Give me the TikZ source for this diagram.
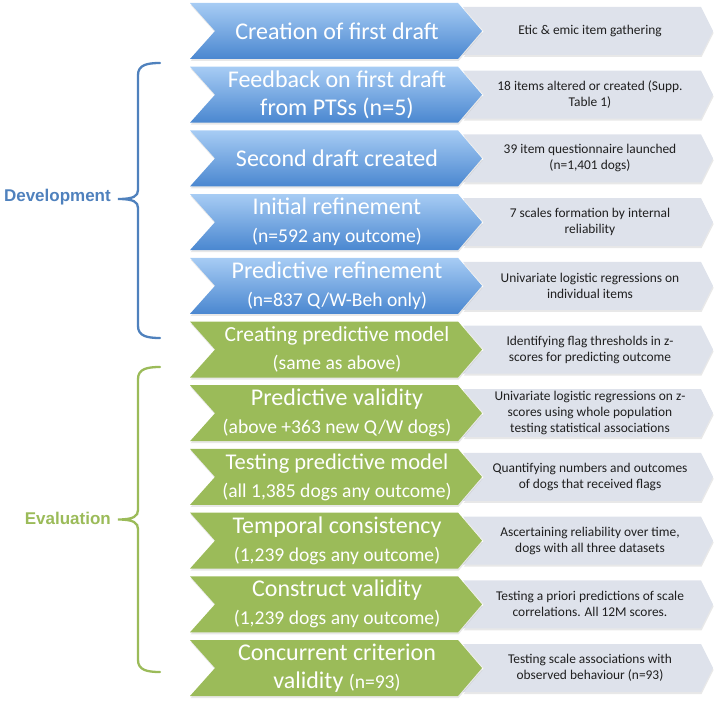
\documentclass[tikz,border=0pt]{standalone}
\usepackage{fontspec}
\setmainfont{Carlito}
\newfontfamily\labelfont{Liberation Sans}
\usetikzlibrary{shadows}
\definecolor{bluetop}{HTML}{A7CCF4}
\definecolor{bluebot}{HTML}{4A87D0}
\definecolor{greenfill}{HTML}{9BBB59}
\definecolor{grayfill}{HTML}{DEE2EB}
\definecolor{devblue}{HTML}{4F81BD}
\definecolor{evalgreen}{HTML}{9BBB59}
\tikzset{
  shad/.style={drop shadow={opacity=0.18,shadow xshift=0.6pt,shadow yshift=-2pt}},
  bluechev/.style={shad,top color=bluetop,bottom color=bluebot,draw=none},
  greenchev/.style={shad,fill=greenfill,draw=none},
  graychev/.style={shad,fill=grayfill,draw=none},
  titletext/.style={text=white,align=center,inner sep=0pt},
  desctext/.style={text=black!88,align=center,inner sep=0pt,font=\fontsize{13.4}{16}\selectfont},
  bracepath/.style={line width=2.3pt,line cap=round},
  grouplabel/.style={anchor=east,inner sep=0pt,font=\labelfont\bfseries\fontsize{17}{20}\selectfont},
}
\newcommand{\sub}[1]{{\fontsize{19.6}{28}\selectfont #1}}
% #1 row, #2 style, #3 title size, #4 title, #5 description
\newcommand{\chevrow}[5]{%
  \pgfmathsetmacro\rowt{3+63.7*(#1-1)}%
  \pgfmathsetmacro\rowm{\rowt+28}%
  \pgfmathsetmacro\rowb{\rowt+56}%
  \path[graychev] (463,\rowt+4) -- (701,\rowt+4) -- (713,\rowm) -- (701,\rowb-4)
     -- (463,\rowb-4) -- (484,\rowm) -- cycle;
  \path[#2] (190,\rowt) -- (458,\rowt) -- (482,\rowm) -- (458,\rowb)
     -- (190,\rowb) -- (215,\rowm) -- cycle;
  \node[titletext,font=\fontsize{#3}{28}\selectfont] (t#1) at (337,\rowm) {#4};
  \node[desctext] (d#1) at (590,\rowm) {#5};
}
\begin{document}
\begin{tikzpicture}[x=1pt,y=-1pt]
\useasboundingbox (0,0) rectangle (716,709);
\chevrow{1}{bluechev}{24}{Creation of first draft}{Etic \& emic item gathering}
\chevrow{2}{bluechev}{24}{Feedback on first draft\\from PTSs (n=5)}{18 items altered or created (Supp.\\Table 1)}
\chevrow{3}{bluechev}{24}{Second draft created}{39 item questionnaire launched\\(n=1,401 dogs)}
\chevrow{4}{bluechev}{24}{Initial refinement\\\sub{(n=592 any outcome)}}{7 scales formation by internal\\reliability}
\chevrow{5}{bluechev}{24}{Predictive refinement\\\sub{(n=837 Q/W-Beh only)}}{Univariate logistic regressions on\\individual items}
\chevrow{6}{greenchev}{21.5}{Creating predictive model\\\sub{(same as above)}}{Identifying flag thresholds in z-\\scores for predicting outcome}
\chevrow{7}{greenchev}{24}{Predictive validity\\\sub{(above +363 new Q/W dogs)}}{Univariate logistic regressions on z-\\scores using whole population\\testing statistical associations}
\chevrow{8}{greenchev}{22.5}{Testing predictive model\\\sub{(all 1,385 dogs any outcome)}}{Quantifying numbers and outcomes\\of dogs that received flags}
\chevrow{9}{greenchev}{24}{Temporal consistency\\\sub{(1,239 dogs any outcome)}}{Ascertaining reliability over time,\\dogs with all three datasets}
\chevrow{10}{greenchev}{24}{Construct validity\\\sub{(1,239 dogs any outcome)}}{Testing a priori predictions of scale\\correlations. All 12M scores.}
\chevrow{11}{greenchev}{24}{Concurrent criterion\\validity \sub{(n=93)}}{Testing scale associations with\\observed behaviour (n=93)}
% braces
\draw[bracepath,devblue] (160,63) .. controls (147,63) and (138,65) .. (138,75) -- (138,190)
   .. controls (138,196) and (134,199) .. (118,199)
   .. controls (134,199) and (138,202) .. (138,208) -- (138,326)
   .. controls (138,336) and (147,338) .. (160,338);
\draw[bracepath,evalgreen] (160,367) .. controls (147,367) and (138,369) .. (138,379) -- (138,510)
   .. controls (138,516) and (134,519.5) .. (118,519.5)
   .. controls (134,519.5) and (138,523) .. (138,529) -- (138,660)
   .. controls (138,670) and (147,672) .. (160,672);
\node[grouplabel,text=devblue] (devlabel) at (111,197) {Development};
\node[grouplabel,text=evalgreen] (evallabel) at (111,518) {Evaluation};
\end{tikzpicture}
\end{document}
